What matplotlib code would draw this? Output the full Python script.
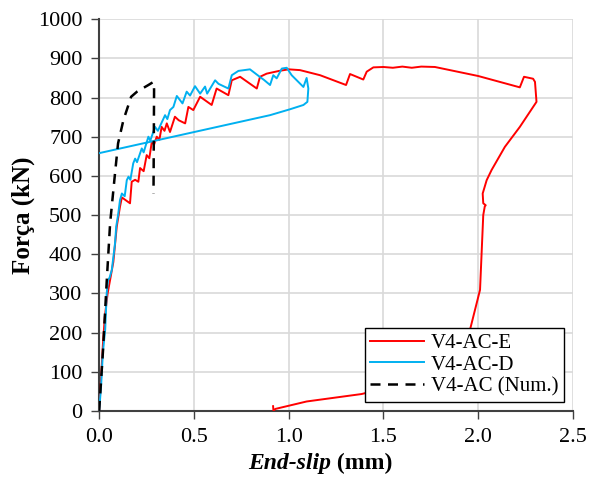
import matplotlib
matplotlib.use("Agg")
import matplotlib.pyplot as plt

# -------------------------------
# Data
# -------------------------------
# V4-AC-E (experimental, red)
red_x = [0.0, 0.01, 0.02, 0.03, 0.045, 0.06, 0.075, 0.093, 0.11, 0.12, 0.14, 0.163,
         0.172, 0.19, 0.207, 0.216, 0.235, 0.251, 0.265, 0.278, 0.29, 0.304, 0.318,
         0.33, 0.345, 0.357, 0.374, 0.40, 0.42, 0.454, 0.471, 0.497, 0.533, 0.594,
         0.62, 0.682, 0.70, 0.744, 0.832, 0.849, 0.884, 0.95, 1.0, 1.06, 1.166,
         1.303, 1.324, 1.394, 1.412, 1.447, 1.5, 1.55, 1.6, 1.65, 1.7, 1.772,
         2.0, 2.22, 2.242, 2.29, 2.30, 2.308, 2.22, 2.141, 2.071, 2.045, 2.024,
         2.027, 2.04, 2.035, 2.027, 2.01, 1.957, 1.85, 1.65, 1.385, 1.095, 0.93,
         0.92, 0.918]
red_y = [0, 80, 170, 240, 300, 340, 380, 470, 521, 545, 538, 530,
         585, 590, 585, 620, 612, 653, 645, 687, 680, 700, 692,
         725, 715, 734, 712, 751, 742, 734, 776, 768, 802, 781,
         823, 806, 844, 853, 823, 853, 861, 868, 872, 870, 857,
         832, 860, 846, 866, 877, 878, 876, 879, 876, 879, 878,
         855, 826, 853, 848, 840, 789, 725, 674, 615, 589, 555,
         530, 525, 522, 500, 309, 207, 130, 75, 43, 24, 5,
         0, 12]

# V4-AC-D (experimental, blue)
blue_x = [0.0, 0.01, 0.02, 0.032, 0.04, 0.047, 0.055, 0.067, 0.084, 0.09, 0.1,
          0.11, 0.12, 0.135, 0.146, 0.155, 0.165, 0.18, 0.19, 0.2, 0.225, 0.235,
          0.26, 0.27, 0.295, 0.31, 0.348, 0.36, 0.374, 0.392, 0.41, 0.44, 0.462,
          0.48, 0.506, 0.533, 0.559, 0.57, 0.612, 0.63, 0.682, 0.70, 0.735,
          0.796, 0.85, 0.87, 0.902, 0.919, 0.937, 0.964, 0.99, 1.016, 1.078,
          1.095, 1.104, 1.099, 1.078, 1.007, 0.902, 0.0]
blue_y = [0, 60, 150, 207, 300, 334, 340, 360, 428, 470, 500,
          538, 555, 548, 589, 598, 590, 632, 644, 635, 670, 660,
          700, 690, 725, 715, 755, 745, 768, 776, 804, 785, 815,
          805, 829, 810, 828, 810, 844, 835, 823, 857, 868,
          872, 852, 845, 832, 857, 849, 874, 876, 857, 827,
          850, 823, 789, 781, 770, 755, 658]

# V4-AC (numerical, black dashed)
num_x = [0.0, 0.02, 0.04, 0.058, 0.084, 0.10, 0.128, 0.169, 0.20, 0.26, 0.287,
         0.29, 0.287]
num_y = [0, 150, 330, 479, 607, 683, 742, 802, 815, 832, 840, 820, 555]

x_ticks = [0.0, 0.5, 1.0, 1.5, 2.0, 2.5]
y_ticks = list(range(0, 1001, 100))

# -------------------------------
# Style
# -------------------------------
plt.rcParams["font.family"] = ["Liberation Serif", "DejaVu Serif"]
plt.rcParams["font.size"] = 12

fig = plt.figure(figsize=(5.9, 4.8), dpi=100)
ax = fig.add_axes([0.168, 0.144, 0.803, 0.816])

ax.plot(red_x, red_y, color="#ff0000", lw=1.4, label="V4-AC-E", zorder=3)
ax.plot(blue_x, blue_y, color="#00b0f0", lw=1.4, label="V4-AC-D", zorder=4)
ax.plot(num_x, num_y, color="black", lw=1.8, ls=(0, (4, 3)), label="V4-AC (Num.)", zorder=5)

ax.set_xlim(0, 2.5)
ax.set_ylim(0, 1000)
ax.set_xticks(x_ticks)
ax.set_xticklabels([f"{v:.1f}" for v in x_ticks])
ax.set_yticks(y_ticks)
ax.grid(True, color="#d9d9d9", lw=1.2)
ax.set_axisbelow(True)

for side in ["top", "right"]:
    ax.spines[side].set_visible(False)
for side in ["left", "bottom"]:
    ax.spines[side].set_color("#404040")
    ax.spines[side].set_linewidth(1.5)
ax.tick_params(direction="out", length=5.5, width=1, color="#404040", labelsize=16)
ax.tick_params(axis="y", pad=6.5)
ax.tick_params(axis="x", pad=7)

ax.set_ylabel("Força (kN)", fontsize=18, fontweight="bold", labelpad=2)

# x label: italic "End-slip" + upright "(mm)"
t1 = ax.text(0.489, -0.135, "End-slip", transform=ax.transAxes, ha="right", va="center",
             fontsize=17, fontweight="bold", style="italic")
ax.annotate(" (mm)", xy=(1, 0), xycoords=t1, ha="left", va="bottom",
            fontsize=17, fontweight="bold")

leg = ax.legend(loc="lower right", fontsize=15, handlelength=2.55, borderaxespad=0.45,
                fancybox=False, framealpha=1, edgecolor="black", borderpad=0.25,
                labelspacing=0.1, handletextpad=0.35)
leg.get_frame().set_linewidth(1.0)

fig.savefig("out.png", dpi=100)
